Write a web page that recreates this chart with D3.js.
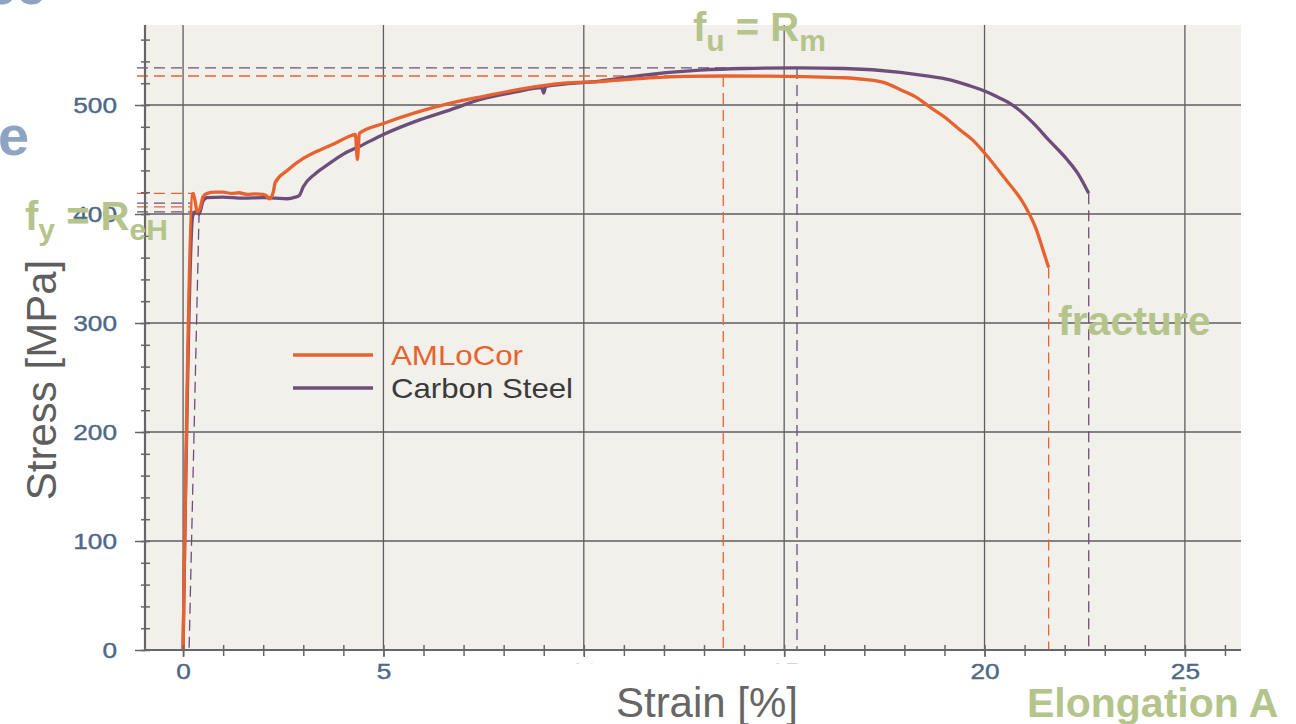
<!DOCTYPE html>
<html>
<head>
<meta charset="utf-8">
<script src="https://cdn.jsdelivr.net/npm/d3@7"></script>
<style>
  body { margin: 0; background: #fff; }
  svg { display: block; font-family: "Liberation Sans", Arial, sans-serif; }
</style>
</head>
<body>
<svg id="chart" width="1296" height="724"></svg>
<script>
const width = 1296;
const height = 724;
const plot = {left: 145, right: 1241, top: 25, bottom: 650};

const ORANGE = "#e8622f";
const PURPLE = "#6d4e7a";
const GREEN = "#b4c48b";
const TICK_COLOR = "#4d6887";

// strain [%], stress [MPa]
const amlocorStrain = [0, 0.25, 0.3, 0.35, 0.42, 0.5, 0.6, 0.8, 1.0, 1.2, 1.4, 1.6, 1.8, 2.0, 2.1, 2.15, 2.25, 2.3,
  2.6, 3.0, 3.25, 3.5, 3.8, 4.2, 4.3, 4.35, 4.4, 5.0, 5.8, 6.7, 7.5, 8.5, 9.5, 10.4, 11.5, 12.5, 13.48,
  14.5, 15.5, 16.5, 17.0, 17.5, 17.9, 18.3, 18.64, 19.0, 19.39, 19.7, 20.0, 20.5, 21.0, 21.3, 21.45, 21.6];
const amlocorStress = [0, 419, 412, 402, 405, 416, 419, 420, 420, 419, 419.5, 418, 418.5, 418, 416, 414, 420, 429,
  440, 451, 456, 460, 465, 472, 473, 450, 474, 483, 493, 502, 508, 515, 520, 521.5, 524.5, 526.3, 526.6,
  526.5, 526, 525, 523.5, 520.5, 514, 507, 498, 489, 477, 468, 456, 433, 408, 385, 368, 351];

const steelStrain = [0, 0.24, 0.3, 0.4, 0.5, 0.6, 1.0, 1.5, 2.0, 2.3, 2.6, 2.8, 2.9, 3.0, 3.3, 3.6, 4.0, 4.4,
  5.0, 5.8, 6.7, 7.4, 8.3, 8.95, 9.0, 9.05, 10.4, 11.5, 12.9, 14.0, 15.32, 16.5, 17.9, 18.5, 19.14, 19.6,
  20.06, 20.4, 20.7, 21.2, 21.6, 22.06, 22.35, 22.6];
const steelStress = [0, 398, 402, 400, 412, 415, 415.5, 414.5, 415, 414.5, 414, 415.5, 417, 425, 437, 445, 455, 462,
  473, 485, 496, 505, 512, 516, 511, 517, 522, 527.5, 532, 533.5, 534, 533.5, 530, 527, 523, 518,
  512, 506, 500, 484, 468, 450, 436, 419];

// dashed guide lines: [strain1, stress1, strain2, stress2, series]
const guideLines = [
  [-1.15, 526.6, 13.48, 526.6, "a"],
  [-1.15, 534, 15.32, 534, "s"],
  [13.48, 526.6, 13.48, 0, "a"],
  [15.32, 534, 15.32, 0, "s"],
  [21.6, 351, 21.6, 0, "a"],
  [22.6, 419, 22.6, 0, "s"],
  [-1.15, 419, 0.3, 419, "a"],
  [-1.15, 410, 0.18, 410, "s"],
  [-1.15, 406.5, 0.18, 406.5, "a"],
  [-1.15, 402, 0.4, 402, "s"],
  [0.4, 402, 0.15, 0, "s"]
];

const xMajor = [0, 5, 10, 15, 20, 25];
const xMinor = d3.range(0, 27, 1);
const yMajor = [0, 100, 200, 300, 400, 500];
const yMinor = d3.range(0, 561, 20);
const legendItems = [
  {name: "AMLoCor", color: ORANGE, text: ORANGE, len: 132},
  {name: "Carbon Steel", color: PURPLE, text: "#3a3a3a", len: 182}
];

const x = d3.scaleLinear().domain([-0.95, 26.4]).range([plot.left, plot.right]);
const y = d3.scaleLinear().domain([0, 573.4]).range([plot.bottom, plot.top]);

const svg = d3.select("#chart");

// slide fragments at the left
svg.append("text").attr("x", -14).attr("y", 4)
  .attr("font-size", 54).attr("font-weight", "bold").attr("fill", "#8ea4c3").text("ce");
svg.append("text").attr("x", -2).attr("y", 155)
  .attr("font-size", 56).attr("font-weight", "bold").attr("fill", "#8ea4c3").text("e");

svg.append("rect")
  .attr("x", plot.left).attr("y", plot.top)
  .attr("width", plot.right - plot.left).attr("height", plot.bottom - plot.top)
  .attr("fill", "#f2f0eb");

// grid
svg.append("g").selectAll("line").data(xMajor).join("line")
  .attr("x1", d => x(d)).attr("x2", d => x(d))
  .attr("y1", plot.top).attr("y2", plot.bottom)
  .attr("stroke", "#5e5e5e").attr("stroke-width", 1.3);
svg.append("g").selectAll("line").data(yMajor.filter(d => d > 0)).join("line")
  .attr("x1", plot.left).attr("x2", plot.right)
  .attr("y1", d => y(d)).attr("y2", d => y(d))
  .attr("stroke", "#5e5e5e").attr("stroke-width", 1.3);

// dashed guides
svg.append("g").selectAll("line").data(guideLines).join("line")
  .attr("x1", d => x(d[0])).attr("y1", d => y(d[1]))
  .attr("x2", d => x(d[2])).attr("y2", d => y(d[3]))
  .attr("stroke", d => d[4] === "a" ? ORANGE : PURPLE)
  .attr("stroke-width", 1.3)
  .attr("stroke-dasharray", "11,6");

const line = d3.line().curve(d3.curveMonotoneX).x(d => x(d[0])).y(d => y(d[1]));
svg.append("path")
  .datum(d3.zip(steelStrain, steelStress))
  .attr("fill", "none").attr("stroke", PURPLE).attr("stroke-width", 3.3)
  .attr("stroke-linejoin", "round")
  .attr("d", line);
svg.append("path")
  .datum(d3.zip(amlocorStrain, amlocorStress))
  .attr("fill", "none").attr("stroke", ORANGE).attr("stroke-width", 3.3)
  .attr("stroke-linejoin", "round")
  .attr("d", line);

// axes
const yAxisMinor = svg.append("g")
  .attr("transform", `translate(${plot.left},0)`)
  .call(d3.axisLeft(y).tickValues(yMinor).tickSize(4).tickSizeOuter(0).tickFormat(""));
yAxisMinor.selectAll(".tick line").attr("x1", -4).attr("x2", 5);
yAxisMinor.select(".domain").attr("d", `M0,${plot.top}V${plot.bottom}`);

const yAxis = svg.append("g")
  .attr("transform", `translate(${plot.left},0)`)
  .call(d3.axisLeft(y).tickValues(yMajor).tickSize(10).tickPadding(18).tickSizeOuter(0));
yAxis.select(".domain").remove();

const xAxisMinor = svg.append("g")
  .attr("transform", `translate(0,${plot.bottom})`)
  .call(d3.axisBottom(x).tickValues(xMinor).tickSize(5).tickSizeOuter(0).tickFormat(""));
xAxisMinor.selectAll(".tick line").attr("y1", -5).attr("y2", 6);
xAxisMinor.select(".domain").attr("d", `M${plot.left},0H${plot.right}`);

const xAxis = svg.append("g")
  .attr("transform", `translate(0,${plot.bottom})`)
  .call(d3.axisBottom(x).tickValues(xMajor).tickSize(7).tickSizeOuter(0));
xAxis.select(".domain").remove();

svg.selectAll(".domain").attr("stroke", "#666").attr("stroke-width", 2.2);
svg.selectAll(".tick line").attr("stroke", "#666").attr("stroke-width", 1.5);
svg.selectAll(".tick text")
  .attr("fill", TICK_COLOR)
  .attr("stroke", TICK_COLOR)
  .attr("stroke-width", 0.4)
  .attr("font-size", 22)
  .attr("font-family", "'Liberation Sans', Arial, sans-serif")
  .attr("textLength", d => String(d).length * 14.6)
  .attr("lengthAdjust", "spacingAndGlyphs");
xAxis.selectAll(".tick text").attr("y", 29).attr("dy", 0);

// white box behind the x title
svg.append("rect").attr("x", 540).attr("y", 664).attr("width", 310).attr("height", 60).attr("fill", "#fff");

svg.append("text")
  .attr("x", 707).attr("y", 717)
  .attr("text-anchor", "middle")
  .attr("font-size", 42).attr("fill", "#666")
  .text("Strain [%]");
svg.append("text")
  .attr("transform", "translate(56,380) rotate(-90)")
  .attr("text-anchor", "middle")
  .attr("font-size", 42).attr("fill", "#5e5e5e")
  .text("Stress [MPa]");

// legend
const legend = svg.append("g").selectAll("g").data(legendItems).join("g")
  .attr("transform", (d, i) => `translate(293,${355 + i * 33})`);
legend.append("line")
  .attr("x1", 0).attr("x2", 80)
  .attr("stroke", d => d.color).attr("stroke-width", 3.5);
legend.append("text")
  .attr("x", 98).attr("y", 10)
  .attr("font-size", 28)
  .attr("fill", d => d.text)
  .attr("textLength", d => d.len)
  .attr("lengthAdjust", "spacingAndGlyphs")
  .text(d => d.name);

// annotations
function annotate(px, py, main, sub, rest, sub2) {
  const t = svg.append("text")
    .attr("x", px).attr("y", py)
    .attr("font-size", 40).attr("font-weight", "bold").attr("fill", GREEN);
  t.append("tspan").text(main);
  t.append("tspan").attr("font-size", 30).attr("dy", 10).text(sub);
  t.append("tspan").attr("dy", -10).text(rest);
  t.append("tspan").attr("font-size", 30).attr("dy", 10).text(sub2);
}
annotate(693, 41, "f", "u", " = R", "m");
annotate(25, 230, "f", "y", " = R", "eH");

svg.append("text").attr("x", 1058).attr("y", 335)
  .attr("font-size", 41).attr("font-weight", "bold").attr("fill", GREEN).text("fracture");
svg.append("text").attr("x", 1027).attr("y", 717)
  .attr("font-size", 41).attr("font-weight", "bold").attr("fill", GREEN).text("Elongation A");
</script>
</body>
</html>
